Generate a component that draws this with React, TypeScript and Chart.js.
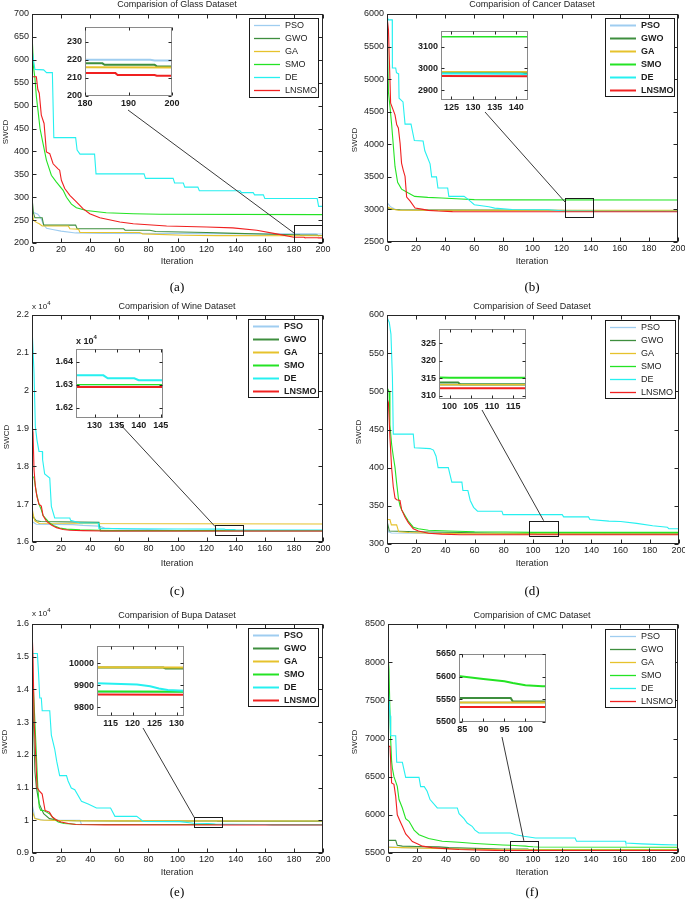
import React, { useEffect, useRef } from "react";
import { Chart, registerables } from "chart.js";
Chart.register(...registerables);

const FONT = "'Liberation Sans', Arial, Helvetica, sans-serif";
const SERIF = "'Liberation Serif', 'Times New Roman', serif";

const seriesNames = ["PSO", "GWO", "GA", "SMO", "DE", "LNSMO"];
const seriesColors = ["#9fcdf0", "#3e8e3e", "#e6c22c", "#24e324", "#26f0f0", "#f02020"];
const iterTicks = [0, 20, 40, 60, 80, 100, 120, 140, 160, 180, 200];

// ---------------- Glass ----------------
const glassPSO = [[0, 268], [4, 263], [6, 255], [8, 240], [10, 232], [15, 229], [20, 226], [30, 222], [50, 221], [120, 220.5], [180, 220], [195, 220], [196, 219.5], [200, 219.5]];
const glassGWO = [[0, 300], [1, 265], [2, 255], [7, 255], [8, 239], [30, 239], [31, 231], [63, 231], [64, 228], [81, 228], [85, 225], [120, 223], [140, 221], [165, 219], [180, 218], [184, 218], [184.5, 217.2], [196, 217.2], [196.5, 216.3], [200, 216.3]];
const glassGA = [[0, 272], [1, 250], [3, 245], [5, 242], [7, 237], [25, 237], [26, 231], [32, 230], [33, 223], [74, 223], [76, 220], [104, 217], [127, 216], [200, 215.7]];
const glassSMO = [[0, 660], [1, 585], [2, 560], [3, 520], [4.1, 490], [5.5, 450], [7.6, 417], [9.9, 381], [13.3, 348], [16.8, 333], [21.4, 315], [23.7, 300], [27.1, 285], [30.5, 277], [37.4, 271], [51, 266], [69.6, 264], [88, 262.7], [200, 262]];
const glassDE = [[0, 623], [1, 600], [2, 579], [8, 578], [10, 572], [14, 572], [15, 430], [30, 430], [31, 403], [33, 394], [43, 394], [44, 351], [77, 351], [78, 341], [97, 341], [98, 331], [104, 331], [105, 322], [114, 322], [115, 314], [143, 314], [144, 310], [152, 310], [153, 305], [159, 305], [160, 297], [196, 297], [197, 280], [200, 280]];
const glassLNSMO = [[0, 563], [3, 563], [4, 535], [5, 527], [6.4, 479], [8.3, 461], [9.9, 399], [12.2, 395], [14.5, 373], [17.9, 362], [19, 359], [20.2, 337], [22.5, 319], [26, 304], [30.5, 290], [35, 275], [39.7, 264], [46.6, 255], [60.4, 246], [69.6, 242], [92.5, 237], [120, 235], [138, 233], [154.5, 228], [168, 220], [180, 212.6], [187, 212.6], [187.5, 211.6], [196, 211.6], [196.5, 211.2], [200, 211.2]];
const glassYTicks = [200, 250, 300, 350, 400, 450, 500, 550, 600, 650, 700];
const glassInsetX = [180, 190, 200];
const glassInsetY = [200, 210, 220, 230];

// ---------------- Cancer ----------------
const cancerPSO = [[0, 3100], [1, 3080], [2, 3050], [4, 3020], [6, 3000], [10, 2995], [60, 2990], [100, 2985], [200, 2980]];
const cancerGWO = [[0, 3010], [2, 3005], [5, 3000], [9, 2995], [40, 2990], [110, 2985], [138, 2978], [200, 2975]];
const cancerGA = [[0, 3040], [2, 3020], [5, 3000], [8, 2988], [200, 2985]];
const cancerSMO = [[0, 5500], [0.5, 5300], [1, 4800], [2, 4590], [3.2, 4300], [4.4, 3966], [5.5, 3660], [7.3, 3415], [10, 3312], [14.7, 3251], [19, 3200], [28, 3185], [37.6, 3175], [51, 3160], [60, 3150], [80, 3147], [200, 3145]];
const cancerDE = [[0, 5950], [1, 5910], [3.6, 5910], [3.7, 5170], [6, 5170], [6.5, 5100], [8, 5080], [8.3, 4707], [11, 4650], [12.4, 4309], [16.5, 4309], [18.8, 4058], [24.8, 4050], [26, 3900], [29.6, 3700], [30.7, 3500], [34, 3500], [35, 3328], [41.7, 3328], [42.5, 3200], [53, 3200], [56, 3150], [60, 3072], [70, 3040], [74, 3020], [86, 3000], [111, 2995], [122, 2977], [141, 2976], [142, 2972], [200, 2970]];
const cancerLNSMO = [[0, 5960], [1, 5760], [2.5, 4630], [5.5, 4452], [6.7, 4298], [7.8, 4250], [9, 4017], [10, 3711], [11.2, 3600], [12.4, 3506], [13.5, 3190], [15.8, 3130], [19.3, 3021], [23.9, 3005], [28.4, 2985], [35, 2975], [45, 2966], [200, 2964]];
const cancerYTicks = [2500, 3000, 3500, 4000, 4500, 5000, 5500, 6000];
const cancerInsetX = [125, 130, 135, 140];
const cancerInsetY = [2900, 3000, 3100];

// ---------------- Wine ----------------
const winePSO = [[0, 16540], [3, 16470], [28, 16460], [35, 16440], [46, 16420], [50, 16370], [60, 16345], [80, 16330], [100, 16303], [200, 16302]];
const wineGWO = [[0, 16800], [1, 16650], [3, 16560], [6, 16540], [46, 16520], [47, 16295], [200, 16293]];
const wineGA = [[0, 16900], [1, 16700], [2, 16560], [5, 16490], [200, 16475]];
const wineSMO = [[0, 17750], [1.4, 17700], [3, 17300], [4.8, 17000], [6.4, 16850], [7.6, 16700], [9.9, 16600], [12.2, 16500], [15.6, 16420], [19, 16370], [23.7, 16340], [33, 16320], [46.6, 16310], [60, 16303], [200, 16302]];
const wineDE = [[0, 21700], [1.4, 20460], [2.3, 19054], [3.4, 18700], [4.8, 18394], [7.1, 18394], [7.3, 18174], [8.7, 17800], [12.2, 17690], [13.3, 16943], [15.6, 16635], [26, 16635], [26.5, 16573], [33, 16503], [45.5, 16503], [46, 16360], [70, 16350], [100, 16345], [132, 16341], [133, 16328], [139, 16328], [140, 16320], [200, 16318]];
const wineLNSMO = [[0, 19100], [0.7, 18900], [1.4, 17908], [2.3, 17470], [3.4, 17200], [4.8, 17000], [6.4, 16950], [7.6, 16700], [9.9, 16550], [13.3, 16450], [16.8, 16380], [21.4, 16330], [26, 16310], [35, 16300], [50, 16291], [200, 16290]];
const wineYTicks = [16000, 17000, 18000, 19000, 20000, 21000, 22000];
const wineInsetX = [130, 135, 140, 145];
const wineInsetY = [16200, 16300, 16400];

// ---------------- Seed ----------------
const seedPSO = [[0, 320], [1, 316], [3, 314.5], [20, 314], [60, 313.5], [100, 313.1], [200, 313]];
const seedGWO = [[0, 330], [1, 322], [1.6, 317], [20, 316], [50, 315], [80, 314], [102, 313.8], [102.5, 313.3], [200, 313.3]];
const seedGA = [[0, 332], [2, 332], [3, 325], [6.6, 325], [8, 316], [15, 315], [30, 314], [60, 313.3], [200, 313.1]];
const seedSMO = [[0, 505], [1.4, 500], [2, 456], [3.2, 430], [4.3, 415], [5.5, 400], [6.6, 380], [7.8, 360], [8.9, 350], [10, 345], [12.4, 337], [14.6, 330], [18, 322], [21.5, 320], [28.4, 318], [42, 317], [60, 316], [80, 315.8], [100, 315.2], [200, 315.2]];
const seedDE = [[0, 597], [1.6, 590], [2.7, 575], [3.7, 519], [4.3, 444], [18, 444], [18.8, 426], [29.5, 425], [31.8, 423], [33.6, 415], [35, 400], [42, 400], [44.4, 381], [51.3, 381], [52, 370], [55.4, 370], [57, 357], [59.3, 348], [62, 343], [78.7, 343], [79.5, 338.5], [120, 338.5], [121, 335.5], [138, 335.5], [139, 332], [152, 330], [160, 329.5], [171, 327], [182, 324], [192, 322], [193, 320], [200, 320]];
const seedLNSMO = [[0, 491], [1, 485], [2, 440], [3.2, 399], [4.3, 375], [5.5, 360], [6.6, 358], [8.9, 357], [10, 345], [12.4, 335], [14.6, 328], [18, 320], [21.5, 317], [28.4, 314], [37.5, 313], [50, 312.2], [200, 312.1]];
const seedYTicks = [300, 350, 400, 450, 500, 550, 600];
const seedInsetX = [100, 105, 110, 115];
const seedInsetY = [310, 315, 320, 325];

// ---------------- Bupa ----------------
const bupaPSO = [[0, 10500], [1, 10300], [2, 10060], [8, 10010], [33, 10000], [34, 9870], [200, 9870]];
const bupaGWO = [[0, 14700], [1, 13000], [2, 11500], [3, 11000], [5, 10500], [8, 10200], [12, 10050], [18, 10000], [30, 9985], [60, 9980], [127, 9980], [127.5, 9975], [200, 9975]];
const bupaGA = [[0, 10300], [2, 10050], [6, 10010], [20, 9990], [60, 9981], [200, 9980]];
const bupaSMO = [[0, 14400], [1, 14000], [2, 13000], [3, 12000], [4, 11000], [5, 10400], [6, 10300], [8, 10300], [10, 10250], [12, 10200], [15, 10050], [18, 9950], [22, 9900], [30, 9880], [60, 9872], [200, 9870]];
const bupaDE = [[0, 15100], [3.7, 15100], [4.5, 14500], [5.3, 13738], [6.4, 13738], [7, 13350], [12.2, 13350], [13.3, 12600], [15.6, 12179], [17, 11800], [19, 11364], [23.7, 11364], [24.8, 11200], [27, 10987], [29.4, 10936], [34, 10579], [38.6, 10500], [44.3, 10375], [54, 10375], [57, 10120], [72, 10120], [76.5, 9968], [101.7, 9960], [111, 9910], [121, 9903], [124, 9895], [126, 9885], [128, 9878], [132, 9875], [160, 9870], [165, 9860], [200, 9860]];
const bupaLNSMO = [[0, 15850], [0.7, 15000], [1.5, 13000], [2.5, 12000], [3.5, 11000], [5, 10900], [7, 10800], [9, 10300], [12, 10250], [14, 10100], [17, 10000], [20, 9950], [25, 9900], [30, 9870], [50, 9860], [200, 9855]];
const bupaYTicks = [9000, 10000, 11000, 12000, 13000, 14000, 15000, 16000];
const bupaInsetX = [115, 120, 125, 130];
const bupaInsetY = [9800, 9900, 10000];

// ---------------- CMC ----------------
const cmcPSO = [[0, 5580], [10, 5570], [40, 5560], [70, 5550], [80, 5543], [200, 5543]];
const cmcGWO = [[0, 5666], [5.3, 5666], [6.4, 5600], [9.9, 5590], [20, 5585], [35, 5580], [42, 5570], [60, 5560], [78.7, 5553], [96.5, 5553], [97, 5545], [200, 5545]];
const cmcGA = [[0, 5575], [9.9, 5570], [40, 5555], [80, 5543], [200, 5543]];
const cmcSMO = [[0, 8100], [0.7, 7900], [1.4, 7290], [1.8, 7000], [2.5, 6700], [3, 6613], [4.1, 6500], [6.4, 6373], [7.6, 6200], [9.9, 6090], [12.2, 5950], [14.5, 5915], [18, 5800], [21.4, 5740], [28, 5690], [37.4, 5653], [49, 5640], [60, 5625], [79, 5605], [84.5, 5601], [90, 5595], [95, 5590], [97, 5586], [100, 5581], [104, 5579], [200, 5575]];
const cmcDE = [[0, 7683], [0.7, 7500], [1.4, 7300], [1.8, 7037], [5.3, 7037], [6, 6688], [9.9, 6688], [12.2, 6491], [21.4, 6491], [22.5, 6370], [25, 6370], [27, 6308], [29, 6200], [34, 6090], [47.8, 6090], [49, 6015], [52.4, 5950], [54.6, 5893], [58, 5850], [60, 5800], [62.7, 5762], [84.5, 5762], [88, 5740], [93.7, 5720], [101.7, 5697], [129, 5697], [130, 5653], [163.7, 5653], [164, 5630], [175, 5620], [189, 5610], [200, 5605]];
const cmcLNSMO = [[0, 6897], [1.4, 6897], [2.5, 6417], [4.1, 6400], [5.3, 6242], [6.4, 6000], [8.7, 5900], [9.9, 5850], [12.2, 5750], [14.5, 5700], [16.8, 5650], [20.2, 5620], [23.7, 5590], [30.5, 5570], [37.4, 5560], [49, 5545], [60, 5540], [74, 5535], [80, 5533], [200, 5533]];
const cmcYTicks = [5500, 6000, 6500, 7000, 7500, 8000, 8500];
const cmcInsetX = [85, 90, 95, 100];
const cmcInsetY = [5500, 5550, 5600, 5650];

// ---------------- layout ----------------
const ML = 40, MT = 8, MR = 12, MB = 22;
const IL = 34, IT = 6, IR = 8, IB = 18;

type Rect = [number, number, number, number];
interface PanelDef {
  title: string; caption: string;
  series: number[][][];
  plot: Rect; yRange: [number, number]; yTicks: number[]; div: number;
  inset: { plot: Rect; xRange: [number, number]; yRange: [number, number]; xTicks: number[]; yTicks: number[]; div: number };
  zoom: [number, number, number, number];
  link: { from: [number, number]; to: [number, number] };
  legend: Rect; boldLegend: boolean; legendLW: number;
  titlePos: [number, number]; iterPos: [number, number]; swcdPos: [number, number]; capPos: [number, number];
  expPos?: [number, number]; insetExpPos?: [number, number];
}

const panels: PanelDef[] = [
  {
    title: "Comparision of Glass Dataset", caption: "(a)",
    series: [glassPSO, glassGWO, glassGA, glassSMO, glassDE, glassLNSMO],
    plot: [32, 14, 323, 243], yRange: [200, 700], yTicks: glassYTicks, div: 1,
    inset: { plot: [85, 27, 172, 96], xRange: [180, 200], yRange: [200, 238], xTicks: glassInsetX, yTicks: glassInsetY, div: 1 },
    zoom: [180, 200, 200, 240], link: { from: [128, 110], to: [180, 222] },
    legend: [249, 18, 318, 97], boldLegend: false, legendLW: 1.3,
    titlePos: [177, 4], iterPos: [177, 261], swcdPos: [6, 132], capPos: [177, 286],
  },
  {
    title: "Comparision of Cancer Dataset", caption: "(b)",
    series: [cancerPSO, cancerGWO, cancerGA, cancerSMO, cancerDE, cancerLNSMO],
    plot: [387, 14, 678, 242], yRange: [2500, 6000], yTicks: cancerYTicks, div: 1,
    inset: { plot: [441, 31, 528, 100], xRange: [122.6, 142.7], yRange: [2856, 3171], xTicks: cancerInsetX, yTicks: cancerInsetY, div: 1 },
    zoom: [122.5, 142.5, 2870, 3172], link: { from: [485, 112], to: [122.9, 3100] },
    legend: [605, 18, 674, 96], boldLegend: true, legendLW: 2,
    titlePos: [532, 4], iterPos: [532, 261], swcdPos: [355, 140], capPos: [532, 286],
  },
  {
    title: "Comparision of Wine Dataset", caption: "(c)",
    series: [winePSO, wineGWO, wineGA, wineSMO, wineDE, wineLNSMO],
    plot: [32, 315, 323, 542], yRange: [16000, 22000], yTicks: wineYTicks, div: 10000,
    inset: { plot: [76, 349, 163, 418], xRange: [125.8, 145.5], yRange: [16155, 16456], xTicks: wineInsetX, yTicks: wineInsetY, div: 10000 },
    zoom: [125.5, 145.5, 16160, 16450], link: { from: [119, 423], to: [125.8, 16410] },
    legend: [248, 319, 318, 397], boldLegend: true, legendLW: 2,
    titlePos: [177, 306], iterPos: [177, 563], swcdPos: [7, 437], capPos: [177, 590],
    expPos: [32, 308], insetExpPos: [76, 342],
  },
  {
    title: "Comparision of Seed Dataset", caption: "(d)",
    series: [seedPSO, seedGWO, seedGA, seedSMO, seedDE, seedLNSMO],
    plot: [387, 315, 679, 544], yRange: [300, 600], yTicks: seedYTicks, div: 1,
    inset: { plot: [439, 329, 526, 399], xRange: [97.5, 118], yRange: [309.1, 329.1], xTicks: seedInsetX, yTicks: seedInsetY, div: 1 },
    zoom: [97.5, 117.6, 309, 330.5], link: { from: [482, 410], to: [107.3, 330.5] },
    legend: [605, 320, 675, 398], boldLegend: false, legendLW: 1.3,
    titlePos: [532, 306], iterPos: [532, 563], swcdPos: [359, 432], capPos: [532, 590],
  },
  {
    title: "Comparision of Bupa Dataset", caption: "(e)",
    series: [bupaPSO, bupaGWO, bupaGA, bupaSMO, bupaDE, bupaLNSMO],
    plot: [32, 624, 323, 853], yRange: [9000, 16000], yTicks: bupaYTicks, div: 10000,
    inset: { plot: [97, 646, 184, 716], xRange: [111.9, 131.7], yRange: [9761, 10077], xTicks: bupaInsetX, yTicks: bupaInsetY, div: 1 },
    zoom: [111.6, 131.6, 9764, 10090], link: { from: [143, 728], to: [111.6, 10080] },
    legend: [248, 628, 318, 706], boldLegend: true, legendLW: 2,
    titlePos: [177, 615], iterPos: [177, 872], swcdPos: [5, 742], capPos: [177, 891],
    expPos: [32, 615],
  },
  {
    title: "Comparision of CMC Dataset", caption: "(f)",
    series: [cmcPSO, cmcGWO, cmcGA, cmcSMO, cmcDE, cmcLNSMO],
    plot: [388, 624, 678, 853], yRange: [5500, 8500], yTicks: cmcYTicks, div: 1,
    inset: { plot: [459, 654, 546, 722], xRange: [84.2, 104.9], yRange: [5500, 5650], xTicks: cmcInsetX, yTicks: cmcInsetY, div: 1 },
    zoom: [84, 104, 5500, 5660], link: { from: [502, 737], to: [93.7, 5660] },
    legend: [605, 629, 675, 707], boldLegend: false, legendLW: 1.3,
    titlePos: [532, 615], iterPos: [532, 872], swcdPos: [355, 742], capPos: [532, 891],
  },
];

const fmt = (v: number, div: number) => String(Number((v / div).toFixed(6)));

function makeDatasets(series: number[][][], lw: number, clip?: number) {
  return series.map((d, i) => ({
    label: seriesNames[i], data: d, borderColor: seriesColors[i], backgroundColor: seriesColors[i],
    borderWidth: lw, pointRadius: 0, pointHoverRadius: 0, fill: false, tension: 0, order: 5 - i,
    ...(clip !== undefined ? { clip } : {}),
  }));
}

function axisCfg(range: [number, number], ticks: number[], div: number, isX: boolean, size: number, bold: boolean, fixed: number, pad: number) {
  return {
    type: "linear", min: range[0], max: range[1], bounds: "data",
    grid: { display: false, drawTicks: false, tickLength: 0 }, border: { display: false },
    ticks: {
      autoSkip: false, maxRotation: 0, padding: pad, color: "#1c1c1c",
      font: { size, family: FONT, weight: bold ? "bold" : "normal" },
      callback: (v: number) => fmt(v, div),
    },
    afterBuildTicks: (s: any) => { s.ticks = ticks.map((v) => ({ value: v })); },
    afterFit: (s: any) => {
      if (isX) s.height = fixed; else s.width = fixed;
      s.paddingLeft = 0; s.paddingRight = 0; s.paddingTop = 0; s.paddingBottom = 0;
    },
  };
}

function drawFrame(chart: any, frameColor: string, tickLen: number) {
  const { ctx, chartArea: ca, scales } = chart;
  const xs = scales.x, ys = scales.y;
  const L = Math.round(ca.left) + 0.5, R = Math.round(ca.right) - 0.5, T = Math.round(ca.top) + 0.5, B = Math.round(ca.bottom) - 0.5;
  ctx.save();
  ctx.lineWidth = 1;
  ctx.strokeStyle = frameColor;
  ctx.strokeRect(L, T, R - L, B - T);
  ctx.strokeStyle = "#262626";
  ctx.beginPath();
  for (const t of xs.ticks) {
    const px = Math.round(xs.getPixelForValue(t.value)) + 0.5;
    ctx.moveTo(px, B); ctx.lineTo(px, B - tickLen);
    ctx.moveTo(px, T); ctx.lineTo(px, T + tickLen);
  }
  for (const t of ys.ticks) {
    const py = Math.round(ys.getPixelForValue(t.value)) + 0.5;
    ctx.moveTo(L, py); ctx.lineTo(L + tickLen, py);
    ctx.moveTo(R, py); ctx.lineTo(R - tickLen, py);
  }
  ctx.stroke();
  ctx.restore();
}

function buildMain(p: PanelDef, offX: number, offY: number) {
  const plugin = {
    id: "matlabMain",
    afterDraw(chart: any) {
      drawFrame(chart, "#262626", 4);
      const { ctx, scales } = chart;
      const xs = scales.x, ys = scales.y;
      ctx.save();
      const [zx0, zx1, zy0, zy1] = p.zoom;
      const rx0 = Math.round(xs.getPixelForValue(zx0)) + 0.5, rx1 = Math.round(xs.getPixelForValue(zx1)) - 0.5;
      const ry0 = Math.round(ys.getPixelForValue(zy0)) - 0.5, ry1 = Math.round(ys.getPixelForValue(zy1)) + 0.5;
      ctx.strokeStyle = "#1a1a1a"; ctx.lineWidth = 1;
      ctx.strokeRect(rx0, ry1, rx1 - rx0, ry0 - ry1);
      ctx.strokeStyle = "#3a3a3a";
      ctx.beginPath();
      ctx.moveTo(p.link.from[0] - offX, p.link.from[1] - offY);
      ctx.lineTo(xs.getPixelForValue(p.link.to[0]), ys.getPixelForValue(p.link.to[1]));
      ctx.stroke();
      const [gx0, gy0, gx1, gy1] = p.legend;
      const lx = gx0 - offX, ly = gy0 - offY, w = gx1 - gx0, h = gy1 - gy0;
      ctx.fillStyle = "#ffffff"; ctx.fillRect(lx, ly, w, h);
      ctx.strokeStyle = "#1a1a1a"; ctx.lineWidth = 1;
      ctx.strokeRect(Math.round(lx) + 0.5, Math.round(ly) + 0.5, w, h);
      const step = h / seriesNames.length;
      ctx.font = `${p.boldLegend ? "bold " : ""}9px ${FONT}`;
      ctx.textBaseline = "middle";
      seriesNames.forEach((n, i) => {
        const cy = Math.round(ly + step * (i + 0.5)) + 0.5;
        ctx.strokeStyle = seriesColors[i]; ctx.lineWidth = p.legendLW;
        ctx.beginPath(); ctx.moveTo(lx + 5, cy); ctx.lineTo(lx + 31, cy); ctx.stroke();
        ctx.fillStyle = "#1c1c1c"; ctx.fillText(n, lx + 36, cy);
      });
      ctx.restore();
    },
  };
  return {
    type: "line",
    data: { datasets: makeDatasets(p.series, 1.1) },
    options: {
      responsive: false, animation: false, events: [],
      layout: { padding: { left: 0, top: MT, right: MR, bottom: 0 } },
      plugins: { legend: { display: false }, tooltip: { enabled: false }, title: { display: false } },
      scales: {
        x: axisCfg([0, 200], iterTicks, 1, true, 9, false, MB, 1),
        y: axisCfg(p.yRange, p.yTicks, p.div, false, 9, false, ML, 3),
      },
    },
    plugins: [plugin],
  } as any;
}

function buildInset(p: PanelDef) {
  const ins = p.inset;
  const plugin = {
    id: "matlabInset",
    beforeDraw(chart: any) {
      const { ctx, chartArea: ca } = chart;
      ctx.save(); ctx.fillStyle = "#ffffff";
      ctx.fillRect(ca.left, ca.top, ca.right - ca.left, ca.bottom - ca.top);
      ctx.restore();
    },
    afterDraw(chart: any) { drawFrame(chart, "#8a8a8a", 3); },
  };
  return {
    type: "line",
    data: { datasets: makeDatasets(p.series, 2, 0) },
    options: {
      responsive: false, animation: false, events: [],
      layout: { padding: { left: 0, top: IT, right: IR, bottom: 0 } },
      plugins: { legend: { display: false }, tooltip: { enabled: false }, title: { display: false } },
      scales: {
        x: axisCfg(ins.xRange, ins.xTicks, 1, true, 9, true, IB, 2),
        y: axisCfg(ins.yRange, ins.yTicks, ins.div, false, 9, true, IL, 3),
      },
    },
    plugins: [plugin],
  } as any;
}

const centered = (x: number, y: number, extra: React.CSSProperties = {}): React.CSSProperties => ({
  position: "absolute", left: x, top: y, transform: "translate(-50%, -50%)", whiteSpace: "nowrap",
  fontFamily: FONT, color: "#1c1c1c", lineHeight: 1, ...extra,
});

function PanelView({ p }: { p: PanelDef }) {
  const mainRef = useRef<HTMLCanvasElement | null>(null);
  const insetRef = useRef<HTMLCanvasElement | null>(null);
  const [x0, y0, x1, y1] = p.plot;
  const cl = x0 - ML, ct = y0 - MT, cw = x1 - x0 + ML + MR, ch = y1 - y0 + MT + MB;
  const [ix0, iy0, ix1, iy1] = p.inset.plot;
  const il = ix0 - IL, it = iy0 - IT, iw = ix1 - ix0 + IL + IR, ih = iy1 - iy0 + IT + IB;

  useEffect(() => {
    const main = new Chart(mainRef.current as HTMLCanvasElement, buildMain(p, cl, ct));
    const inset = new Chart(insetRef.current as HTMLCanvasElement, buildInset(p));
    return () => { main.destroy(); inset.destroy(); };
  }, []);

  return (
    <>
      <canvas ref={mainRef} width={cw} height={ch}
        style={{ position: "absolute", left: cl, top: ct, width: cw, height: ch, zIndex: 1 }} />
      <canvas ref={insetRef} width={iw} height={ih}
        style={{ position: "absolute", left: il, top: it, width: iw, height: ih, zIndex: 2 }} />
      <div style={centered(p.titlePos[0], p.titlePos[1], { fontSize: 9, zIndex: 3 })}>{p.title}</div>
      <div style={centered(p.iterPos[0], p.iterPos[1], { fontSize: 9, zIndex: 3 })}>Iteration</div>
      <div style={centered(p.swcdPos[0], p.swcdPos[1], { fontSize: 8, zIndex: 3, transform: "translate(-50%, -50%) rotate(-90deg)" })}>SWCD</div>
      <div style={centered(p.capPos[0], p.capPos[1], { fontSize: 13, fontFamily: SERIF, color: "#000", willChange: "transform" })}>{p.caption}</div>
      {p.expPos && (
        <div style={{ position: "absolute", left: p.expPos[0], top: p.expPos[1] - 5, fontFamily: FONT, fontSize: 8, color: "#1c1c1c", lineHeight: 1, whiteSpace: "nowrap", zIndex: 3 }}>
          x 10<sup style={{ fontSize: 6, verticalAlign: "top", position: "relative", top: -3 }}>4</sup>
        </div>
      )}
      {p.insetExpPos && (
        <div style={{ position: "absolute", left: p.insetExpPos[0], top: p.insetExpPos[1] - 5, fontFamily: FONT, fontSize: 9, fontWeight: "bold", color: "#1c1c1c", lineHeight: 1, whiteSpace: "nowrap", zIndex: 3 }}>
          x 10<sup style={{ fontSize: 6, verticalAlign: "top", position: "relative", top: -3 }}>4</sup>
        </div>
      )}
    </>
  );
}

export default function App() {
  return (
    <div style={{ position: "absolute", left: 0, top: 0, width: 685, height: 905, background: "#ffffff", overflow: "hidden" }}>
      {panels.map((p) => <PanelView key={p.caption} p={p} />)}
    </div>
  );
}
